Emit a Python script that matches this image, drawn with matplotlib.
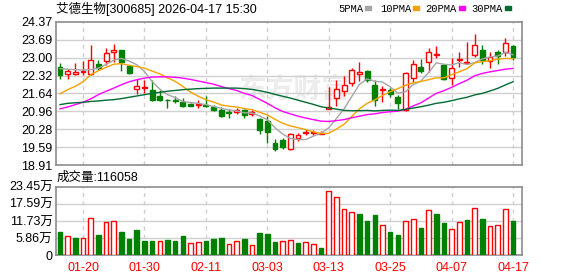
import numpy as np
import matplotlib
matplotlib.use('Agg')
import matplotlib.pyplot as plt
from matplotlib.patches import Rectangle

plt.rcParams['font.family'] = ['Liberation Sans', 'Noto Sans CJK SC']

# daily candles, oldest first (60 trading days)
opens = [22.65, 22.37, 22.39, 22.44, 22.37, 22.77, 22.87, 23.21, 23.28, 22.68,
         21.81, 21.85, 21.78, 21.53, 21.40, 21.39, 21.30, 21.25, 21.20, 21.20,
         21.12, 21.02, 20.92, 20.92, 21.02, 20.84, 20.68, 20.58, 19.74, 19.85,
         19.51, 19.92, 20.13, 20.14, 20.11, 21.05, 21.46, 21.74, 22.03, 22.37,
         22.50, 21.97, 21.75, 21.78, 21.50, 21.00, 22.22, 22.63, 22.82, 23.09,
         22.72, 22.22, 22.91, 22.78, 23.12, 23.31, 22.89, 23.22, 23.22, 23.44]
highs = [22.81, 22.58, 22.80, 22.86, 23.47, 22.90, 23.38, 23.53, 23.30, 22.70,
         22.20, 22.14, 22.14, 21.76, 21.42, 21.52, 21.46, 21.27, 21.38, 21.52,
         21.21, 21.12, 21.05, 21.09, 21.03, 21.00, 20.70, 20.77, 19.89, 19.95,
         20.14, 20.14, 20.29, 20.23, 20.19, 21.90, 22.16, 22.31, 22.60, 22.82,
         22.52, 22.16, 21.93, 21.84, 21.59, 22.47, 22.91, 22.94, 23.35, 23.44,
         22.74, 22.97, 23.20, 23.58, 23.92, 23.48, 23.20, 23.31, 23.73, 23.48]
lows = [22.18, 22.18, 22.35, 22.35, 22.33, 22.52, 22.71, 22.83, 22.49, 22.39,
        21.61, 21.66, 21.34, 21.34, 21.09, 21.28, 21.12, 21.14, 21.09, 21.11,
        20.95, 20.75, 20.71, 20.84, 20.71, 20.77, 20.08, 19.73, 19.43, 19.51,
        19.48, 19.83, 20.04, 20.04, 20.08, 21.04, 21.15, 21.55, 21.93, 22.12,
        22.09, 21.17, 21.30, 21.50, 21.05, 20.96, 22.06, 22.43, 22.47, 22.97,
        22.15, 21.94, 22.66, 22.74, 23.04, 22.74, 22.60, 22.76, 23.06, 22.91]
closes = [22.33, 22.49, 22.47, 22.49, 22.92, 22.62, 23.19, 23.28, 22.83, 22.43,
          21.91, 21.89, 21.38, 21.39, 21.37, 21.35, 21.15, 21.17, 21.22, 21.15,
          21.02, 20.77, 20.90, 21.02, 20.81, 20.94, 20.24, 20.17, 19.51, 19.60,
          20.08, 20.04, 20.16, 20.18, 20.14, 21.12, 21.82, 21.97, 22.53, 22.45,
          22.16, 21.40, 21.80, 21.63, 21.28, 22.41, 22.75, 22.50, 23.20, 23.14,
          22.18, 22.60, 22.95, 22.82, 23.48, 22.91, 23.01, 23.07, 23.54, 23.01]
volumes = [79700, 64900, 59200, 58100, 126400, 69400, 112700, 116100, 79700, 55800,
           86500, 48900, 48900, 47800, 52400, 48900, 66000, 41000, 44400, 48900,
           55800, 59200, 38700, 47800, 55800, 35300, 76300, 72900, 45500, 48900,
           51200, 42100, 44400, 37600, 23900, 218600, 198100, 157100, 146800, 141100,
           116100, 137700, 102400, 79700, 69400, 116100, 122900, 93300, 153700, 141100,
           110400, 88800, 112700, 120700, 160500, 124100, 100200, 103600, 157100, 116058]

# moving average lines as shown
ma5 = [22.58, 22.56, 22.54, 22.53, 22.54, 22.60, 22.74, 22.90, 22.97, 22.87,
       22.73, 22.47, 22.09, 21.80, 21.59, 21.48, 21.33, 21.29, 21.26, 21.21,
       21.14, 21.07, 21.01, 20.97, 20.90, 20.89, 20.78, 20.64, 20.33, 20.09,
       19.92, 19.88, 19.88, 20.01, 20.12, 20.33, 20.68, 21.05, 21.52, 21.98,
       22.19, 22.10, 22.07, 21.89, 21.65, 21.70, 21.97, 22.11, 22.43, 22.80,
       22.75, 22.72, 22.81, 22.74, 22.81, 22.95, 23.03, 23.06, 23.20, 23.11]
ma10 = [21.62, 21.78, 21.91, 22.08, 22.35, 22.50, 22.63, 22.75, 22.77, 22.71,
        22.66, 22.60, 22.49, 22.38, 22.23, 22.10, 21.90, 21.69, 21.53, 21.40,
        21.31, 21.20, 21.15, 21.12, 21.06, 21.02, 20.92, 20.82, 20.65, 20.50,
        20.40, 20.33, 20.26, 20.17, 20.11, 20.12, 20.28, 20.46, 20.76, 21.05,
        21.26, 21.39, 21.56, 21.70, 21.82, 21.95, 22.04, 22.09, 22.16, 22.23,
        22.23, 22.35, 22.46, 22.58, 22.80, 22.85, 22.88, 22.94, 22.97, 22.96]
ma20 = [21.05, 21.12, 21.21, 21.30, 21.43, 21.59, 21.72, 21.84, 21.97, 22.08,
        22.16, 22.22, 22.26, 22.27, 22.27, 22.25, 22.22, 22.17, 22.11, 22.05,
        21.99, 21.90, 21.82, 21.75, 21.64, 21.56, 21.41, 21.26, 21.09, 20.95,
        20.86, 20.77, 20.70, 20.64, 20.58, 20.57, 20.60, 20.64, 20.71, 20.77,
        20.83, 20.86, 20.91, 20.94, 20.96, 21.03, 21.16, 21.28, 21.46, 21.64,
        21.74, 21.87, 22.01, 22.14, 22.31, 22.40, 22.46, 22.51, 22.56, 22.59]
ma30 = [21.21, 21.26, 21.28, 21.30, 21.33, 21.35, 21.38, 21.40, 21.44, 21.49,
        21.54, 21.59, 21.64, 21.68, 21.72, 21.75, 21.78, 21.80, 21.82, 21.83,
        21.84, 21.84, 21.84, 21.84, 21.82, 21.79, 21.74, 21.68, 21.60, 21.53,
        21.46, 21.38, 21.30, 21.22, 21.13, 21.08, 21.04, 20.99, 20.98, 20.98,
        20.99, 20.97, 20.99, 21.00, 20.99, 21.03, 21.08, 21.13, 21.19, 21.26,
        21.30, 21.36, 21.43, 21.49, 21.58, 21.64, 21.73, 21.83, 21.96, 22.08]

date_idx = [3, 11, 19, 27, 35, 43, 51, 59]
date_labels = ['01-20', '01-30', '02-11', '03-03', '03-13', '03-25', '04-07', '04-17']
price_ticks = [24.37, 23.69, 23.00, 22.32, 21.64, 20.96, 20.28, 19.59, 18.91]
vol_ticks = [0, 58625, 117250, 175875, 234500]
vol_tick_labels = ['0', '5.86万', '11.73万', '17.59万', '23.45万']

RED = '#ff0000'
GREEN = '#008000'
GRID = '#d0d0d0'
BORDER = '#8c8c8c'
ma_styles = [('5PMA', ma5, '#a6a6a6'), ('10PMA', ma10, '#f5a200'),
             ('20PMA', ma20, '#ff00ff'), ('30PMA', ma30, '#006b33')]

o = np.array(opens)
c = np.array(closes)
x = np.arange(len(c))
candle_up = c >= o
candle_col = np.where(candle_up, RED, GREEN)
prev = np.concatenate([[o[0]], c[:-1]])
vol_up = c >= prev
vol_col = np.where(vol_up, RED, GREEN)

W, H = 578, 276
fig = plt.figure(figsize=(W / 100, H / 100), dpi=100)
ax = fig.add_axes([56 / W, 1 - 165 / H, 466 / W, 143.3 / H])
axv = fig.add_axes([56 / W, 1 - 255.3 / H, 466 / W, 68.6 / H])

xlim = (-0.52, 60.17)

# price panel
for t in price_ticks[1:-1]:
    ax.axhline(t, color=GRID, lw=1, zorder=1)
for i in date_idx:
    ax.axvline(i, color=GRID, lw=1, ls=(0, (3, 3)), zorder=1)
ax.text(0.51, 0.52, '东方财富', transform=ax.transAxes, ha='center', va='center',
        fontsize=20, color='#ececec', style='italic', fontweight='bold', zorder=0.5)

ax.vlines(x, lows, highs, colors=candle_col, lw=1, zorder=3)
body = np.maximum(np.abs(c - o), 0.012)
ax.bar(x, body, bottom=np.minimum(o, c), width=0.64,
       color=np.where(candle_up, 'white', GREEN), edgecolor=candle_col, lw=1, zorder=4)
for name, vals, col in ma_styles:
    ax.plot(x, vals, color=col, lw=1, zorder=5)

ax.set_xlim(*xlim)
ax.set_ylim(18.91, 24.37)
ax.set_yticks(price_ticks)
ax.set_yticklabels(['%.2f' % t for t in price_ticks])
ax.set_xticks([])

# volume panel
for t in vol_ticks[1:-1]:
    axv.axhline(t, color=GRID, lw=1, zorder=1)
for i in date_idx:
    axv.axvline(i, color=GRID, lw=1, ls=(0, (3, 3)), zorder=1)
axv.bar(x, volumes, width=0.6, color=np.where(vol_up, 'white', GREEN),
        edgecolor=vol_col, lw=1, zorder=3)
axv.set_xlim(*xlim)
axv.set_ylim(0, 234500)
axv.set_yticks(vol_ticks)
axv.set_yticklabels(vol_tick_labels)
axv.set_xticks(date_idx)
axv.set_xticklabels(date_labels, color=RED)

for a in (ax, axv):
    for s in a.spines.values():
        s.set_color(BORDER)
        s.set_linewidth(1.2)
    a.tick_params(length=0, labelsize=9, pad=2.5)
axv.tick_params(axis='x', pad=4.5)

# header texts
fig.text(56 / W, 1 - 8.5 / H, '艾德生物[300685] 2026-04-17 15:30', fontsize=9,
         ha='left', va='center')
fig.text(57 / W, 1 - 177.5 / H, '成交量:%d' % volumes[-1], fontsize=9,
         ha='left', va='center')

legend_x = [338, 380, 425.5, 471.5]
for (name, vals, col), lx in zip(ma_styles, legend_x):
    t = fig.text(lx / W, 1 - 9 / H, name, fontsize=7.6, family='Liberation Mono',
                 ha='left', va='center')
for (name, vals, col), sx in zip(ma_styles, [365, 413.3, 459, 505]):
    fig.patches.append(Rectangle((sx / W, 1 - 9.5 / H), 6 / W, 3 / H,
                                 transform=fig.transFigure, color=col, figure=fig))

fig.savefig('out.png', dpi=100)
